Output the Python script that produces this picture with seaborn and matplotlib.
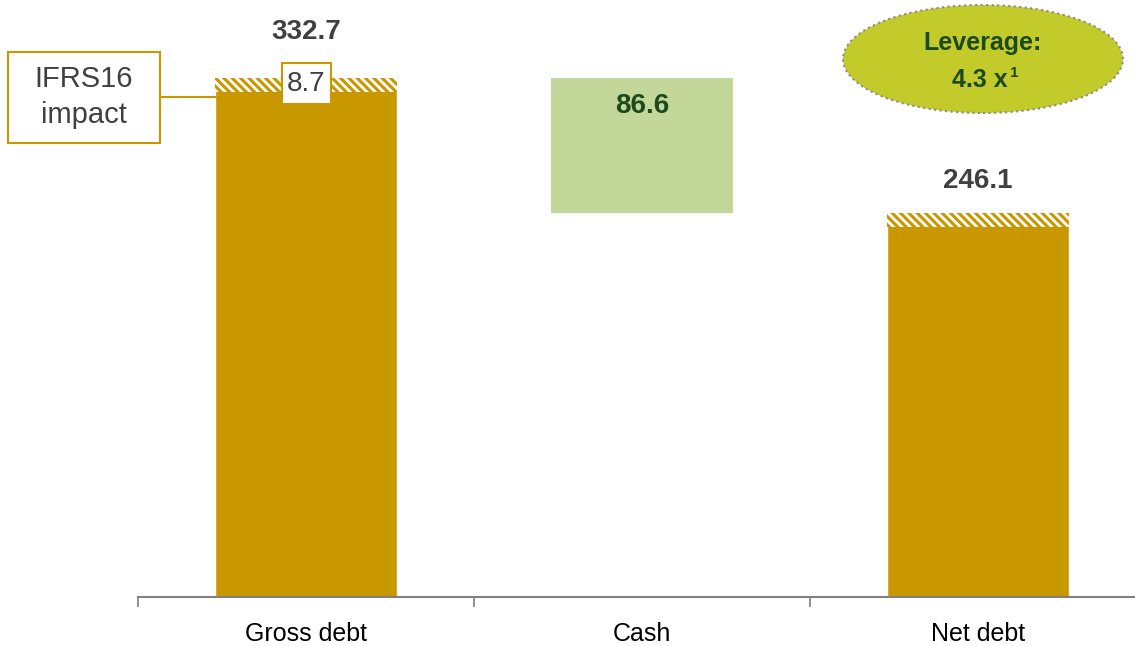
import numpy as np
import pandas as pd
import seaborn as sns
import matplotlib.pyplot as plt
from matplotlib.patches import Ellipse, Rectangle
from matplotlib.lines import Line2D

# -------------------------------------------------------------
# data
# -------------------------------------------------------------
categories = ["Gross debt", "Cash", "Net debt"]
gross_debt = 332.7
cash = 86.6
net_debt = 246.1
ifrs16 = 8.7
leverage = "4.3"

GOLD = "#C99700"
CASH_GREEN = "#C4D79B"
DARK_GREEN = "#1D4A1D"
GREY_TXT = "#404040"

sns.set_style("white")
plt.rcParams["font.family"] = ["Liberation Sans Narrow", "Liberation Sans", "DejaVu Sans"]
plt.rcParams["hatch.linewidth"] = 2.0

W, H = 1135, 646
fig = plt.figure(figsize=(W / 100, H / 100), dpi=100)

def fx(px):
    return px / W

def fy(py):
    return 1 - py / H

# axes placed so 0 sits at the axis line (y=597 px)
ax = fig.add_axes([fx(138), fy(597), fx(W - 138), 597 / H])

df = pd.DataFrame({"cat": categories, "val": [gross_debt, np.nan, net_debt]})
sns.barplot(data=df, x="cat", y="val", order=categories, color=GOLD,
            saturation=1, width=0.54, ax=ax)

# floating cash bar
ax.bar(1, cash, bottom=net_debt, width=0.54, color=CASH_GREEN, linewidth=0)

# hatched IFRS16 slices on top of the debt bars
for x, top in [(0, gross_debt), (2, net_debt)]:
    ax.bar(x, ifrs16, bottom=top - ifrs16, width=0.54, color=GOLD,
           hatch="\\\\\\\\", edgecolor="white", linewidth=0)

ax.set_xlim(-0.5, -0.5 + (W - 138) / 336)
ax.set_ylim(0, 597 / 1.56)
ax.set_xlabel("")
ax.set_ylabel("")
ax.set_yticks([])
for s in ["top", "right", "left"]:
    ax.spines[s].set_visible(False)
ax.spines["bottom"].set_color("#808080")
ax.spines["bottom"].set_linewidth(1.5)

ax.set_xticks([0, 1, 2])
ax.set_xticklabels(categories, fontsize=18, color="black")
ax.set_xticks([-0.5, 0.5, 1.5], minor=True)
ax.tick_params(axis="x", which="major", length=0, pad=18)
ax.tick_params(axis="x", which="minor", length=7, width=1.2, color="#808080",
               direction="out", bottom=True)

# value labels
ax.annotate(f"{gross_debt:.1f}", (0, gross_debt), xytext=(0, 33), textcoords="offset points",
            ha="center", va="center", fontsize=20, fontweight="bold", color=GREY_TXT)
ax.annotate(f"{net_debt:.1f}", (2, net_debt), xytext=(0, 23), textcoords="offset points",
            ha="center", va="center", fontsize=20, fontweight="bold", color=GREY_TXT)
ax.annotate(f"{cash:.1f}", (1, gross_debt), xytext=(0, -20), textcoords="offset points",
            ha="center", va="center", fontsize=20, fontweight="bold", color=DARK_GREEN)

# IFRS16 callout
fig.add_artist(Rectangle((fx(8), fy(143)), fx(152), 91 / H, transform=fig.transFigure,
                         facecolor="white", edgecolor=GOLD, linewidth=1.5))
fig.text(fx(84), fy(97), "IFRS16\nimpact", ha="center", va="center",
         fontsize=21, color=GREY_TXT, linespacing=1.35)
fig.add_artist(Line2D([fx(160), fx(217)], [fy(97), fy(97)], transform=fig.transFigure,
                      color=GOLD, linewidth=1.5))
fig.add_artist(Rectangle((fx(282), fy(104)), fx(49), 41 / H, transform=fig.transFigure,
                         facecolor="white", edgecolor=GOLD, linewidth=1.5, zorder=5))
fig.text(fx(306.5), fy(84), f"{ifrs16:.1f}", ha="center", va="center",
         fontsize=20, color=GREY_TXT, zorder=6)

# leverage bubble
fig.add_artist(Ellipse((fx(983), fy(59)), fx(280), 108 / H, transform=fig.transFigure,
                       facecolor="#C3CB2B", edgecolor="#8A8A8A", linestyle=":", linewidth=1.5))
fig.text(fx(983), fy(43), "Leverage:", ha="center", va="center",
         fontsize=18, fontweight="bold", color=DARK_GREEN)
fig.text(fx(1008), fy(87), f"{leverage} x", ha="right", va="baseline",
         fontsize=18, fontweight="bold", color=DARK_GREEN)
fig.text(fx(1010), fy(77), "1", ha="left", va="baseline",
         fontsize=11, fontweight="bold", color=DARK_GREEN)

fig.savefig("out.png", dpi=100)
